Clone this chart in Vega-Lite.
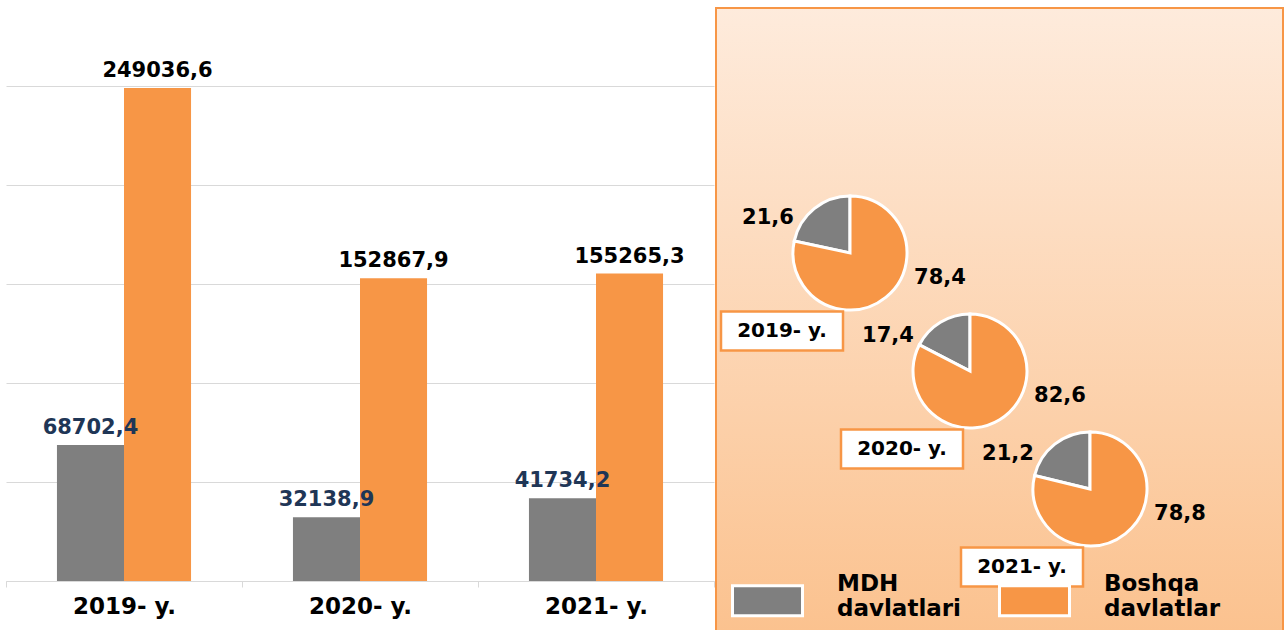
{
  "$schema": "https://vega.github.io/schema/vega-lite/v6.json",
  "padding": {"left": 5, "top": 7, "right": 3, "bottom": 0},
  "background": "white",
  "spacing": 0,
  "config": {
    "locale": {"number": {"decimal": ",", "thousands": " ", "grouping": [3], "currency": ["", ""]}},
    "font": "DejaVu Sans",
    "view": {"stroke": null}
  },
  "datasets": {
    "trade": [
      {"year": "2019- y.", "group": "MDH davlatlari", "value": 68702.4},
      {"year": "2019- y.", "group": "Boshqa davlatlar", "value": 249036.6},
      {"year": "2020- y.", "group": "MDH davlatlari", "value": 32138.9},
      {"year": "2020- y.", "group": "Boshqa davlatlar", "value": 152867.9},
      {"year": "2021- y.", "group": "MDH davlatlari", "value": 41734.2},
      {"year": "2021- y.", "group": "Boshqa davlatlar", "value": 155265.3}
    ],
    "shares": [
      {"year": "2019- y.", "group": "MDH davlatlari", "share": 21.6},
      {"year": "2019- y.", "group": "Boshqa davlatlar", "share": 78.4},
      {"year": "2020- y.", "group": "MDH davlatlari", "share": 17.4},
      {"year": "2020- y.", "group": "Boshqa davlatlar", "share": 82.6},
      {"year": "2021- y.", "group": "MDH davlatlari", "share": 21.2},
      {"year": "2021- y.", "group": "Boshqa davlatlar", "share": 78.8}
    ]
  },
  "resolve": {"scale": {"color": "independent"}},
  "hconcat": [
    {
      "width": 708,
      "height": 573,
      "data": {"name": "trade"},
      "encoding": {
        "x": {
          "field": "year", "type": "nominal", "sort": null,
          "scale": {"paddingInner": 0, "paddingOuter": 0},
          "axis": {"title": null, "labelAngle": 0, "labelFont": "DejaVu Sans", "labelFontWeight": "bold", "labelFontSize": 23, "labelColor": "black", "labelPadding": 8, "tickBand": "extent", "tickSize": 6, "tickColor": "#D9D9D9", "domainColor": "#D9D9D9", "grid": false}
        },
        "xOffset": {"field": "group", "type": "nominal", "sort": ["MDH davlatlari", "Boshqa davlatlar"], "scale": {"paddingInner": 0, "paddingOuter": 0.76}},
        "y": {
          "field": "value", "type": "quantitative",
          "scale": {"domain": [0, 289394], "nice": false},
          "axis": {"title": null, "labels": false, "ticks": false, "domain": false, "values": [0, 50000, 100000, 150000, 200000, 250000], "gridColor": "#D9D9D9", "gridWidth": 1}
        }
      },
      "layer": [
        {
          "mark": {"type": "bar"},
          "encoding": {
            "color": {"field": "group", "type": "nominal", "scale": {"domain": ["MDH davlatlari", "Boshqa davlatlar"], "range": ["#7F7F7F", "#F79646"]}, "legend": null}
          }
        },
        {
          "mark": {"type": "text", "baseline": "bottom", "dy": -7, "font": "DejaVu Sans", "fontWeight": "bold", "fontSize": 21},
          "encoding": {
            "text": {"field": "value", "type": "quantitative", "format": ".1f"},
            "color": {"condition": {"test": "datum.group === 'MDH davlatlari'", "value": "#1F3656"}, "value": "black"}
          }
        }
      ]
    },
    {
      "width": 567,
      "height": 623,
      "view": {
        "fill": {"gradient": "linear", "x1": 0, "y1": 0, "x2": 0, "y2": 1, "stops": [{"offset": 0, "color": "#FEEBDC"}, {"offset": 1, "color": "#FBC28F"}]},
        "stroke": "#F79646",
        "strokeWidth": 2
      },
      "data": {"name": "shares"},
      "transform": [
        {"stack": "share", "groupby": ["year"], "sort": [{"field": "group", "order": "ascending"}], "as": ["t0", "t1"]}
      ],
      "encoding": {
        "x": {"field": "year", "type": "ordinal", "scale": {"type": "point", "range": [134, 374], "padding": 0}, "axis": null},
        "y": {"field": "year", "type": "ordinal", "scale": {"type": "point", "range": [245, 481], "padding": 0}, "axis": null}
      },
      "layer": [
        {
          "mark": {"type": "arc", "outerRadius": 57, "stroke": "white", "strokeWidth": 3},
          "encoding": {
            "theta": {"field": "t0", "type": "quantitative", "scale": {"domain": [0, 100]}},
            "theta2": {"field": "t1"},
            "color": {
              "field": "group", "type": "nominal",
              "scale": {"domain": ["MDH davlatlari", "Boshqa davlatlar"], "range": ["#7F7F7F", "#F79646"]},
              "legend": {
                "title": null, "orient": "none", "legendX": 15, "legendY": 556, "direction": "horizontal",
                "symbolType": "M -1 -0.43 H 1 V 0.43 H -1 Z", "symbolSize": 4900,
                "symbolStrokeColor": "white", "symbolStrokeWidth": 3, "symbolOpacity": 1,
                "labelFont": "DejaVu Sans", "labelFontWeight": "bold", "labelFontSize": 23, "labelColor": "black",
                "labelLimit": 300, "labelOffset": 33, "columnPadding": 31, "padding": 0,
                "labelExpr": "split(datum.label, ' ')", "labelBaseline": "middle",
                "encode": {"labels": {"update": {"dy": {"value": -17}}}}
              }
            }
          }
        },
        {
          "transform": [{"filter": "datum.group === 'MDH davlatlari'"}],
          "mark": {"type": "text", "dx": -82, "dy": -35, "font": "DejaVu Sans", "fontWeight": "bold", "fontSize": 21, "color": "black"},
          "encoding": {"text": {"field": "share", "type": "quantitative", "format": ".1f"}}
        },
        {
          "transform": [{"filter": "datum.group === 'Boshqa davlatlar'"}],
          "mark": {"type": "text", "dx": 90, "dy": 25, "font": "DejaVu Sans", "fontWeight": "bold", "fontSize": 21, "color": "black"},
          "encoding": {"text": {"field": "share", "type": "quantitative", "format": ".1f"}}
        },
        {
          "transform": [{"filter": "datum.group === 'MDH davlatlari'"}],
          "mark": {"type": "point", "shape": "M -1 -0.32 H 1 V 0.32 H -1 Z", "size": 14884, "filled": true, "fill": "white", "stroke": "#F79646", "strokeWidth": 2.5, "opacity": 1, "xOffset": -68, "yOffset": 78}
        },
        {
          "transform": [{"filter": "datum.group === 'MDH davlatlari'"}],
          "mark": {"type": "text", "dx": -68, "dy": 78, "font": "DejaVu Sans", "fontWeight": "bold", "fontSize": 20, "color": "black"},
          "encoding": {"text": {"field": "year"}}
        }
      ]
    }
  ]
}
